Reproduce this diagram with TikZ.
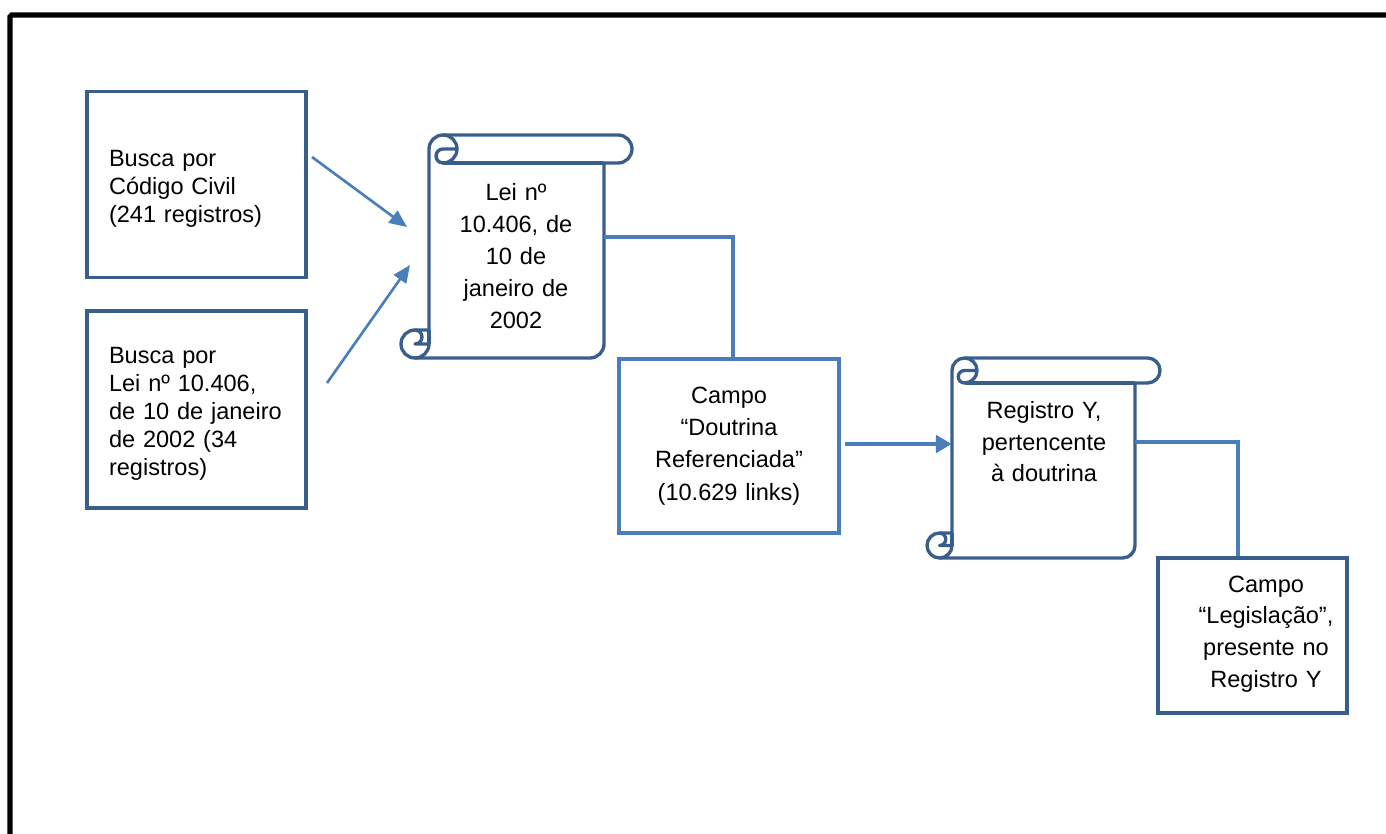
\documentclass[tikz,border=0pt]{standalone}
\usepackage{fontspec}
\setmainfont{Liberation Sans}
\usetikzlibrary{arrows.meta}

\definecolor{boxblue}{HTML}{3A5E8C}
\definecolor{linkblue}{HTML}{4A7EBB}

% Vertical scroll outline: #1 left, #2 top, #3 right, #4 bottom, #5 roll size
\newcommand\drawscroll[5]{%
  \pgfmathsetmacro\scrA{#1+#5}%
  \pgfmathsetmacro\scrHalf{#5/2}%
  \pgfmathsetmacro\scrQuart{#5/4}%
  \pgfmathsetmacro\scrXiii{#1+1.5*#5}%
  \pgfmathsetmacro\scrXiv{#1+2*#5}%
  \pgfmathsetmacro\scrXvi{#3-#5}%
  \pgfmathsetmacro\scrXvii{#3-#5/2}%
  \pgfmathsetmacro\scrXh{#1+#5/2}%
  \pgfmathsetmacro\scrYh{#2+#5/2}%
  \pgfmathsetmacro\scrYc{#2+#5}%
  \pgfmathsetmacro\scrYiii{#4-#5}%
  \pgfmathsetmacro\scrYiv{#4-#5/2}%
  \draw[scrollline] (\scrA,\scrYiii) -- (\scrA,\scrYh)
    arc[start angle=180,delta angle=90,radius=\scrHalf]
    -- (\scrXvii,#2) arc[start angle=270,delta angle=180,radius=\scrHalf]
    -- (\scrXvi,\scrYc) -- (\scrXvi,\scrYiv)
    arc[start angle=0,delta angle=90,radius=\scrHalf]
    -- (\scrXh,#4) arc[start angle=90,delta angle=180,radius=\scrHalf]
    -- cycle;
  \draw[scrollline] (\scrXiii,#2)
    arc[start angle=270,delta angle=180,radius=\scrHalf]
    arc[start angle=90,delta angle=180,radius=\scrQuart]
    -- (\scrXiv,\scrYh);
  \draw[scrollline] (\scrXvi,\scrYc) -- (\scrXiii,\scrYc);
  \draw[scrollline] (\scrXh,\scrYiii)
    arc[start angle=270,delta angle=180,radius=\scrQuart]
    -- (\scrA,\scrYiv) arc[start angle=0,delta angle=90,radius=\scrHalf];
  \draw[scrollline] (\scrA,\scrYiii) -- (\scrA,\scrYiv);
}
% taller first line, to lower a text block a little
\newcommand\toplift{\rule{0pt}{14.3pt}}

\begin{document}
\begin{tikzpicture}[x=0.02cm,y=-0.02cm,
  scrollline/.style={draw=boxblue,line width=1.9pt,line join=round},
  searchbox/.style={draw=boxblue,line width=1.9pt,inner sep=0pt,
    minimum width=4.38cm,text width=3.5cm,align=left,
    font=\fontsize{13.4}{15.9}\selectfont},
  fieldbox/.style={draw=#1,line width=1.9pt,inner sep=0pt,
    font=\fontsize{13.4}{18.3}\selectfont},
  bodyarea/.style={inner sep=0pt},
  centertext/.style={inner sep=0pt,align=center,
    font=\fontsize{13.4}{18}\selectfont},
  link/.style={draw=linkblue,line width=2.1pt},
  thinarrow/.style={draw=linkblue,line width=1.5pt,
    -{Triangle[length=10pt,width=8.5pt]}},
  widearrow/.style={draw=linkblue,line width=2.2pt,
    -{Triangle[length=9pt,width=10pt]}}]

\useasboundingbox (0,0) rectangle (1386,834);
\clip (0,0) rectangle (1386,834);

% outer frame
\draw[line width=3pt,rounded corners=1pt] (10,15) rectangle (1400,850);

% searches
\node[searchbox,minimum height=3.72cm] (A) at (196.5,184.5)
  {\toplift Busca por\\Código Civil\\(241 registros)};
\node[searchbox,minimum height=3.94cm] (B) at (196.5,409.5)
  {\toplift Busca por\\Lei nº 10.406,\\de 10 de janeiro\\de 2002 (34\\registros)};

% first scroll
\drawscroll{401}{135}{632}{358}{28}
\node[bodyarea,minimum width=3.5cm,minimum height=3.9cm] (S1) at (516.5,260.5) {};
\node[centertext,text width=3.3cm,anchor=north,
  font=\fontsize{13.4}{18.2}\selectfont] (S1text) at (516,183)
  {Lei nº\\10.406, de\\10 de\\janeiro de\\2002};

% field of the first scroll
\node[fieldbox=linkblue,minimum width=4.4cm,minimum height=3.48cm,
  text width=4.0cm,align=center] (C) at (729,446)
  {Campo\\“Doutrina\\Referenciada”\\(10.629 links)};

% second scroll
\drawscroll{927}{358}{1160}{558}{25}
\node[bodyarea,minimum width=3.66cm,minimum height=3.5cm] (S2) at (1043.5,470.5) {};
\node[centertext,text width=3.4cm,anchor=north] (S2text) at (1044,401)
  {Registro Y,\\pertencente\\à doutrina};

% field of the second scroll
\node[fieldbox=boxblue,minimum width=3.78cm,minimum height=3.1cm] (D) at (1252.5,635.5) {};
\node[centertext,text width=3.4cm] (Dtext) at (1266,634)
  {Campo\\“Legislação”,\\presente no\\Registro Y};

% connectors
\coordinate (a1s) at (312,157);
\coordinate (a1e) at (407,227);
\coordinate (a2s) at (327,383);
\coordinate (a2e) at (410,265);
\draw[thinarrow] (a1s) -- (a1e);
\draw[thinarrow] (a2s) -- (a2e);

\coordinate (k1) at (733,237);
\draw[link] (S1.east |- k1) -- (k1) -- (k1 |- C.north);

\coordinate (h1) at (845,444);
\draw[widearrow] (h1) -- (h1 -| S2.west);

\coordinate (k2) at (1238,442);
\draw[link] (S2.east |- k2) -- (k2) -- (k2 |- D.north);
\end{tikzpicture}
\end{document}
